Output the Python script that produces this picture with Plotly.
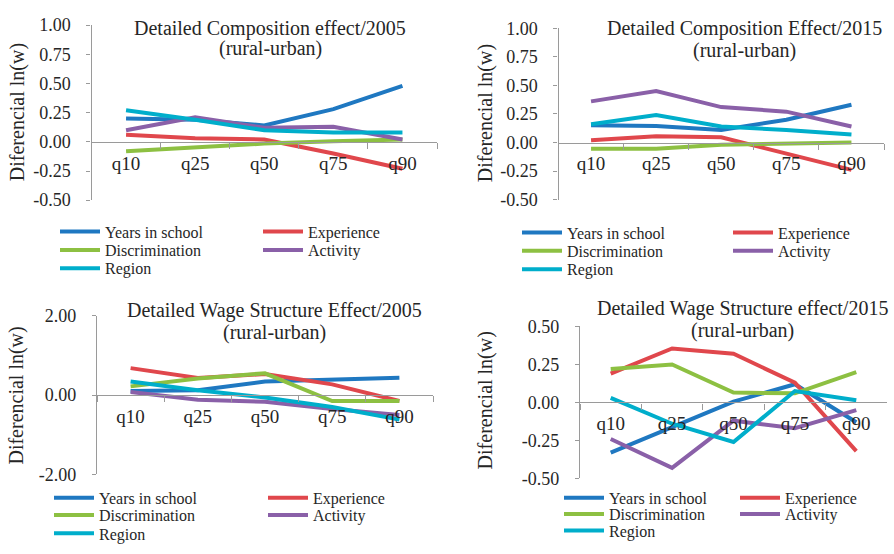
import plotly.graph_objects as go

# ---- data -------------------------------------------------------------
categories = ["q10", "q25", "q50", "q75", "q90"]
series_names = ["Years in school", "Experience", "Discrimination", "Activity", "Region"]
series_colors = ["#1f78c1", "#e0474c", "#8dc042", "#8a60a8", "#00aecb"]

comp_2005_school = [0.20, 0.19, 0.14, 0.28, 0.48]
comp_2005_experience = [0.06, 0.03, 0.02, -0.10, -0.23]
comp_2005_discrimination = [-0.08, -0.05, -0.015, 0.005, 0.02]
comp_2005_activity = [0.10, 0.21, 0.12, 0.13, 0.02]
comp_2005_region = [0.27, 0.19, 0.10, 0.08, 0.08]

comp_2015_school = [0.15, 0.145, 0.11, 0.20, 0.33]
comp_2015_experience = [0.02, 0.055, 0.045, -0.10, -0.24]
comp_2015_discrimination = [-0.055, -0.055, -0.02, -0.01, 0.0]
comp_2015_activity = [0.36, 0.45, 0.31, 0.27, 0.14]
comp_2015_region = [0.16, 0.24, 0.14, 0.11, 0.07]

wage_2005_school = [0.10, 0.12, 0.34, 0.38, 0.44]
wage_2005_experience = [0.68, 0.43, 0.53, 0.27, -0.15]
wage_2005_discrimination = [0.22, 0.42, 0.55, -0.15, -0.15]
wage_2005_activity = [0.08, -0.12, -0.17, -0.35, -0.50]
wage_2005_region = [0.34, 0.12, -0.06, -0.30, -0.62]

wage_2015_school = [-0.33, -0.16, 0.005, 0.12, -0.13]
wage_2015_experience = [0.19, 0.355, 0.32, 0.13, -0.32]
wage_2015_discrimination = [0.22, 0.25, 0.065, 0.06, 0.20]
wage_2015_activity = [-0.24, -0.43, -0.12, -0.17, -0.05]
wage_2015_region = [0.03, -0.14, -0.26, 0.075, 0.015]

panel_series = [
    [comp_2005_school, comp_2005_experience, comp_2005_discrimination, comp_2005_activity, comp_2005_region],
    [comp_2015_school, comp_2015_experience, comp_2015_discrimination, comp_2015_activity, comp_2015_region],
    [wage_2005_school, wage_2005_experience, wage_2005_discrimination, wage_2005_activity, wage_2005_region],
    [wage_2015_school, wage_2015_experience, wage_2015_discrimination, wage_2015_activity, wage_2015_region],
]

panel_titles = [
    ("Detailed Composition effect/2005", "(rural-urban)"),
    ("Detailed Composition Effect/2015", "(rural-urban)"),
    ("Detailed Wage Structure Effect/2005", "(rural-urban)"),
    ("Detailed Wage Structure effect/2015", "(rural-urban)"),
]
y_title = "Diferencial ln(w)"

y_ticks = [
    [-0.5, -0.25, 0.0, 0.25, 0.5, 0.75, 1.0],
    [-0.5, -0.25, 0.0, 0.25, 0.5, 0.75, 1.0],
    [-2.0, 0.0, 2.0],
    [-0.5, -0.25, 0.0, 0.25, 0.5],
]

# ---- layout geometry (pixels) ------------------------------------------
W, H = 894, 554
# x0, x1, y_top, y_bottom of each plot area
plot_boxes = [
    (91.5, 437, 15.7, 197.3),
    (558.5, 884, 19, 196.7),
    (97, 433, 317.3, 481.7),
    (580, 887, 328.3, 486),
]
title_pos = [(270, 19, 40), (744, 19, 42), (274, 312, 335), (742, 310, 333)]
ytitle_pos = [(17, 106), (485, 107), (17, 400), (485, 405)]
# legend: column line starts and row centres
legend_cols = [(60, 263), (522, 733), (54, 268), (564, 740)]
legend_rows = [(230, 249, 268), (231, 250, 269), (506, 524, 543), (506, 523, 540)]
# (column, row) of each series in the legend block
legend_slots = [(0, 0), (1, 0), (0, 1), (1, 1), (0, 2)]

FONT = "Liberation Serif, Times New Roman, serif"
TEXT = "#262626"
AXIS = "#9a9a9a"


def fx(px):
    return px / W


def fy(py):
    return 1 - py / H


fig = go.Figure()
layout = dict(
    width=W, height=H,
    margin=dict(l=0, r=0, t=0, b=0),
    paper_bgcolor="white", plot_bgcolor="white",
    font=dict(family=FONT, color=TEXT),
    showlegend=True,
    annotations=[],
)

legend_id = 0
for p in range(4):
    ax = "" if p == 0 else str(p + 1)
    x0, x1, yt, yb = plot_boxes[p]
    ticks = y_ticks[p]
    ymin, ymax = ticks[0], ticks[-1]
    yd0, yd1 = fy(yb), fy(yt)
    zero_pos = yd0 + (0 - ymin) / (ymax - ymin) * (yd1 - yd0)

    layout["xaxis" + ax] = dict(
        domain=[fx(x0), fx(x1)], anchor="free", position=zero_pos,
        type="category", range=[-0.5, 4.5], tickson="boundaries",
        ticks="outside", ticklen=6, tickcolor=AXIS, tickwidth=1,
        showline=True, linecolor=AXIS, linewidth=1.2,
        showgrid=False, zeroline=False,
        tickfont=dict(family=FONT, size=19, color=TEXT),
        ticklabelstandoff=4, fixedrange=True,
    )
    layout["yaxis" + ax] = dict(
        domain=[yd0, yd1], anchor="x" + ax, range=[ymin, ymax],
        tickmode="array", tickvals=ticks, ticktext=[f"{v:.2f}" for v in ticks],
        ticks="outside", ticklen=4, tickcolor=AXIS, tickwidth=1,
        showline=True, linecolor=AXIS, linewidth=1.2,
        showgrid=False, zeroline=False,
        tickfont=dict(family=FONT, size=18, color=TEXT),
        ticklabelstandoff=12, fixedrange=True,
    )

    for s in range(5):
        legend_id += 1
        lname = "legend" if legend_id == 1 else f"legend{legend_id}"
        fig.add_trace(go.Scatter(
            x=categories, y=panel_series[p][s], mode="lines",
            name=series_names[s], line=dict(color=series_colors[s], width=4),
            xaxis="x" + ax, yaxis="y" + ax, legend=lname,
            showlegend=True, hoverinfo="skip",
        ))
        col, row = legend_slots[s]
        layout[lname] = dict(
            x=fx(legend_cols[p][col] - 5), y=fy(legend_rows[p][row]),
            xanchor="left", yanchor="middle",
            bgcolor="rgba(0,0,0,0)", borderwidth=0,
            font=dict(family=FONT, size=16, color=TEXT),
            itemwidth=40, itemclick=False, itemdoubleclick=False,
        )

    cx, ty1, ty2 = title_pos[p]
    for text, ty in ((panel_titles[p][0], ty1), (panel_titles[p][1], ty2)):
        layout["annotations"].append(dict(
            text=text, x=fx(cx), y=fy(ty), xref="paper", yref="paper",
            xanchor="center", yanchor="middle", showarrow=False,
            font=dict(family=FONT, size=20, color=TEXT),
        ))
    tx, tyc = ytitle_pos[p]
    layout["annotations"].append(dict(
        text=y_title, x=fx(tx), y=fy(tyc), xref="paper", yref="paper",
        xanchor="center", yanchor="middle", showarrow=False, textangle=-90,
        font=dict(family=FONT, size=20, color=TEXT),
    ))

fig.update_layout(**layout)
fig.write_html("out.html")
